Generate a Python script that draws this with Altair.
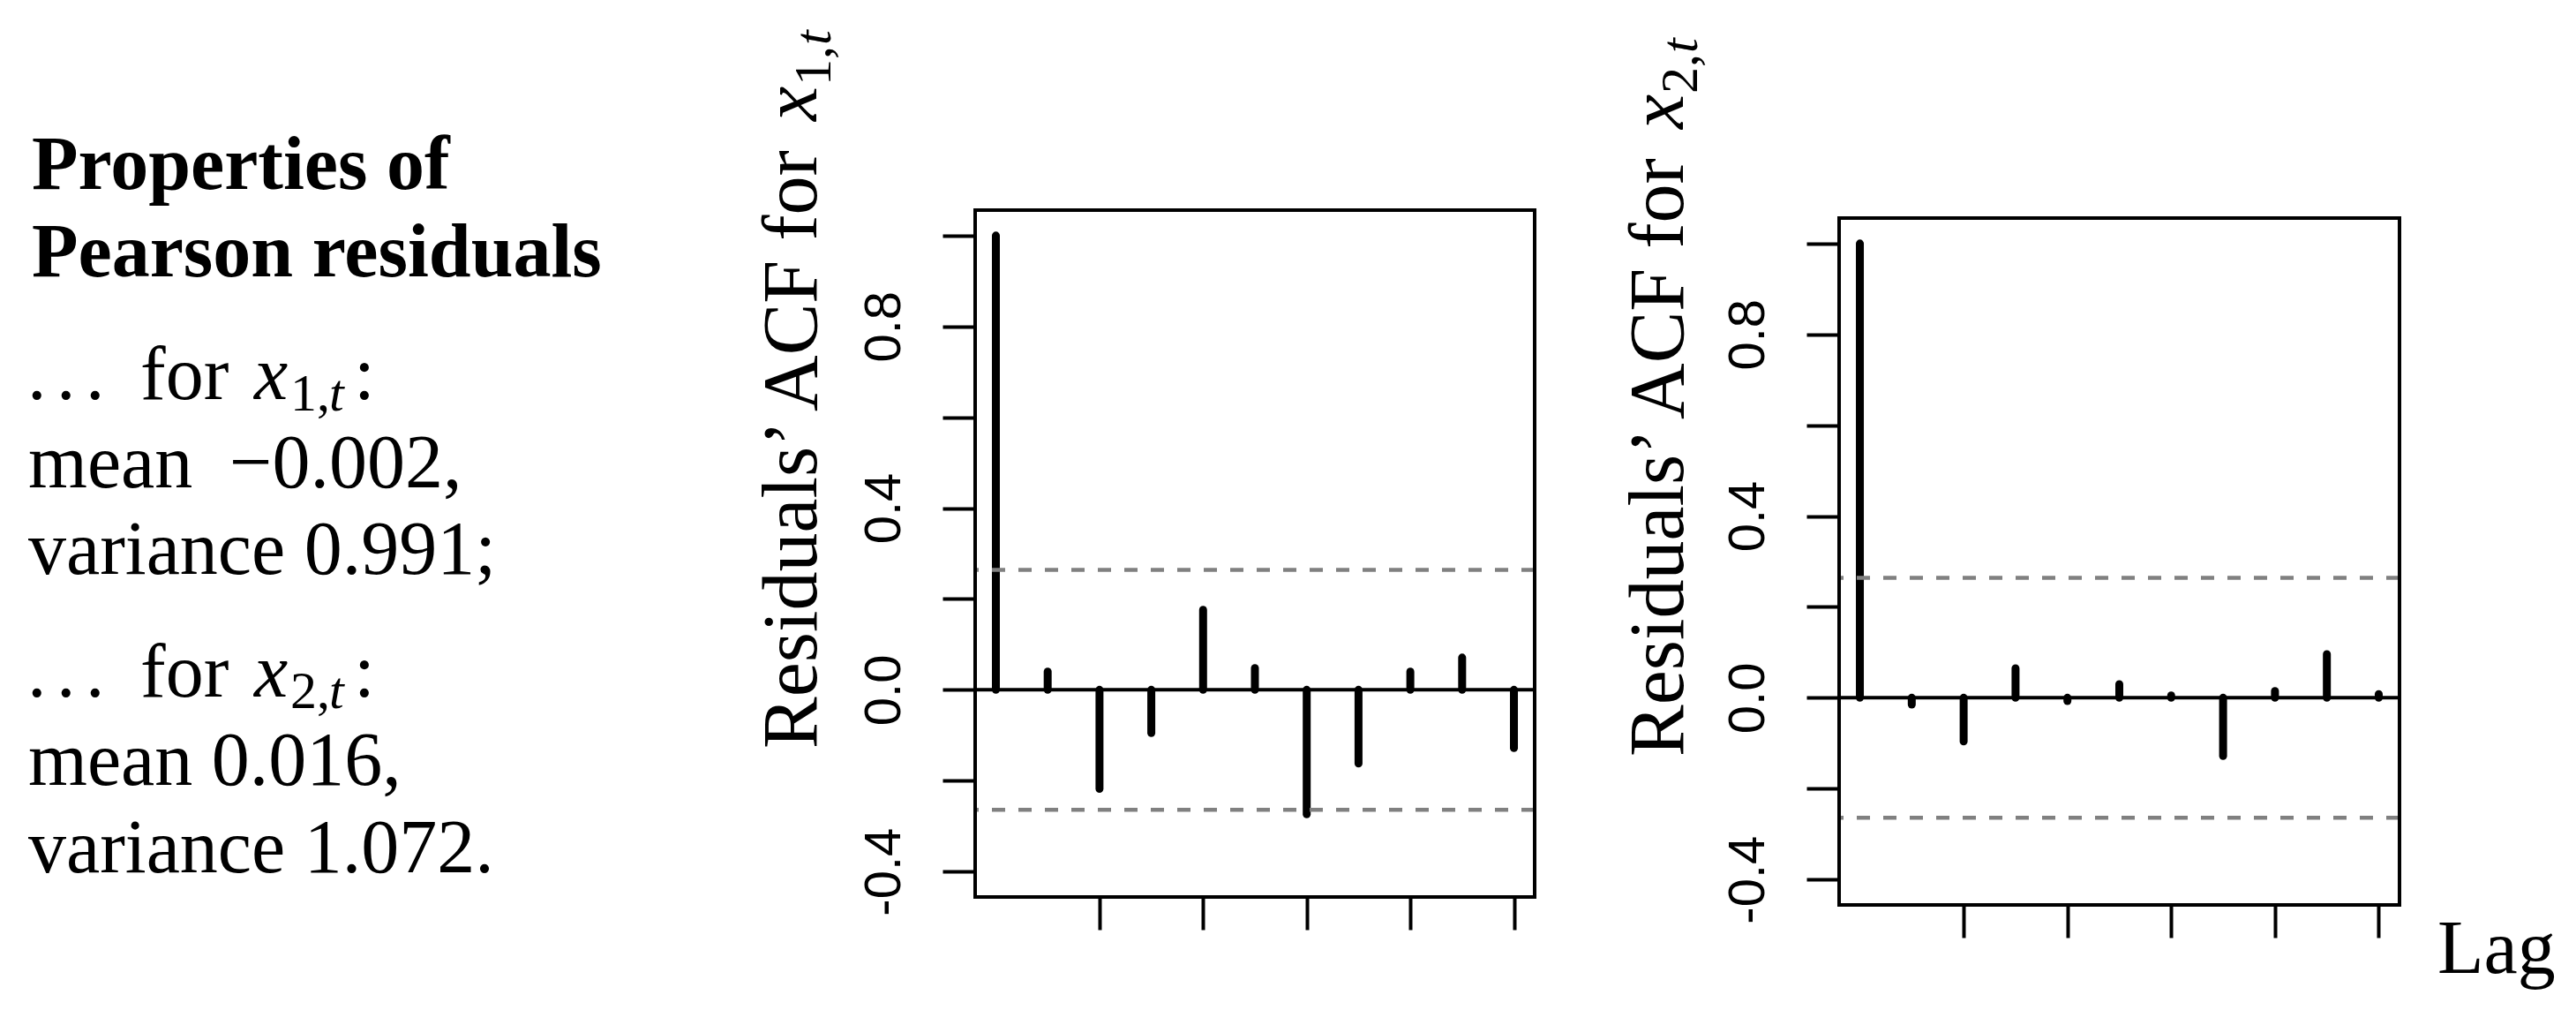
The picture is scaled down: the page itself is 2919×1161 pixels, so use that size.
import altair as alt
import pandas as pd

# ---------------- data ----------------
lags = list(range(11))
acf_x1 = [1.0, 0.040, -0.218, -0.095, 0.176, 0.048, -0.274, -0.162, 0.040, 0.071, -0.128]
acf_x2 = [1.0, -0.015, -0.096, 0.065, -0.007, 0.030, 0.005, -0.128, 0.015, 0.096, 0.008]
conf_limit = 0.264
y_tick_values = [-0.4, -0.2, 0.0, 0.2, 0.4, 0.6, 0.8, 1.0]
x_tick_values = [2, 4, 6, 8, 10]
y_domain = [-0.456, 1.056]
x_domain = [-0.4, 10.4]

heading = ["Properties of", "Pearson residuals"]
mean_word = "mean"
mean_x1 = "\u22120.002,"
var_x1 = "variance 0.991;"
stats_x2 = ["mean 0.016,", "variance 1.072."]
ylab_main = "Residuals\u2019 ACF for"
xlab = "Lag"

SERIF = "Liberation Serif"
SANS = "Liberation Sans"
ONE = pd.DataFrame({"k": [0]})

LABEL_EXPR = ("round(datum.value*10) % 4 == 0 ? "
              "(datum.value < 0 ? '-' + format(-datum.value, '.1f') : format(datum.value, '.1f')) : ''")


def txt(s, x, y, size=86, style="normal", weight="normal", angle=0):
    return alt.Chart(ONE).mark_text(
        font=SERIF, fontSize=size, fontStyle=style, fontWeight=weight,
        angle=angle, align="left", baseline="alphabetic", color="black"
    ).encode(x=alt.value(x), y=alt.value(y), text=alt.value(s))


def ylab(sub, xb, main_y):
    xs = xb + 16
    return [
        txt(ylab_main, xb, main_y, 88, angle=270),
        txt("x", xb, main_y - 711, 88, style="italic", angle=270),
        txt(sub + ",", xs, main_y - 751, 60, angle=270),
        txt("t", xs, main_y - 797, 60, style="italic", angle=270),
    ]


def panel(acf, w, h, top, extra):
    df = pd.DataFrame({"lag": lags, "acf": acf, "base": [0.0] * len(lags)})
    ysc = alt.Scale(domain=y_domain, nice=False, zero=False, range=[h, top])
    xsc = alt.Scale(domain=x_domain, nice=False, zero=False)
    yax = alt.Axis(values=y_tick_values, labelExpr=LABEL_EXPR, labelAngle=270,
                   labelAlign="center", labelBaseline="alphabetic", labelPadding=49,
                   labelFont=SANS, labelFontSize=58, labelColor="black",
                   labelOverlap=False, tickSize=37, tickWidth=4, tickColor="black",
                   domain=False, grid=False, title=None)
    xax = alt.Axis(values=x_tick_values, labels=False, tickSize=37, tickWidth=4,
                   tickColor="black", domain=False, grid=False, title=None)
    spikes = alt.Chart(df).mark_rule(color="black", strokeWidth=9, strokeCap="round").encode(
        x=alt.X("lag:Q", scale=xsc, axis=xax),
        y=alt.Y("base:Q", scale=ysc, axis=yax),
        y2="acf:Q",
    )
    zero = alt.Chart(pd.DataFrame({"h": [0.0]})).mark_rule(
        color="black", strokeWidth=4
    ).encode(y=alt.Y("h:Q", scale=ysc, axis=yax))
    ci = alt.Chart(pd.DataFrame({"c": [conf_limit, -conf_limit]})).mark_rule(
        color="#808080", strokeWidth=4.5, strokeDash=[15, 15]
    ).encode(y=alt.Y("c:Q", scale=ysc, axis=yax))
    frame = alt.Chart(ONE).mark_rect(
        fillOpacity=0, stroke="black", strokeWidth=4
    ).encode(
        x=alt.XDatum(x_domain[0], type="quantitative", scale=xsc, axis=xax),
        x2=alt.X2Datum(x_domain[1]),
        y=alt.YDatum(y_domain[1], type="quantitative", scale=ysc, axis=yax),
        y2=alt.Y2Datum(y_domain[0]),
    )
    return alt.layer(spikes, zero, ci, frame, *extra).properties(width=w, height=h)


def sub_line(sub, base_y):
    sy = base_y + 13
    return [
        txt(".", -1074, base_y), txt(".", -1041, base_y), txt(".", -1008, base_y),
        txt("for", -946, base_y),
        txt("x", -817, base_y, style="italic"),
        txt(sub + ",", -776, sy, 60),
        txt("t", -732, sy, 60, style="italic"),
        txt(":", -704, base_y),
    ]


left_block = (
    [txt(heading[0], -1069, -24, weight="bold"),
     txt(heading[1], -1069, 75, weight="bold")]
    + sub_line("1", 214)
    + [txt(mean_word, -1073, 314), txt(mean_x1, -845, 314), txt(var_x1, -1073, 412)]
    + sub_line("2", 551)
    + [txt(stats_x2[0], -1073, 651), txt(stats_x2[1], -1073, 750)]
)

OFF2 = 9  # panel 2 box sits a little lower
p1 = panel(acf_x1, 634, 778, 0, ylab("1", -180, 610) + left_block)
p2 = panel(acf_x2, 635, 778 + OFF2, OFF2, ylab("2", -177, 610 + OFF2) + [txt(xlab, 678, 864)])

chart = alt.hconcat(p1, p2, spacing=345, bounds="flush").properties(
    padding={"left": 22, "top": 25, "right": 5, "bottom": 5}
).configure_view(stroke="transparent")

chart.save("out.html", embed_options={"renderer": "svg", "actions": False})
